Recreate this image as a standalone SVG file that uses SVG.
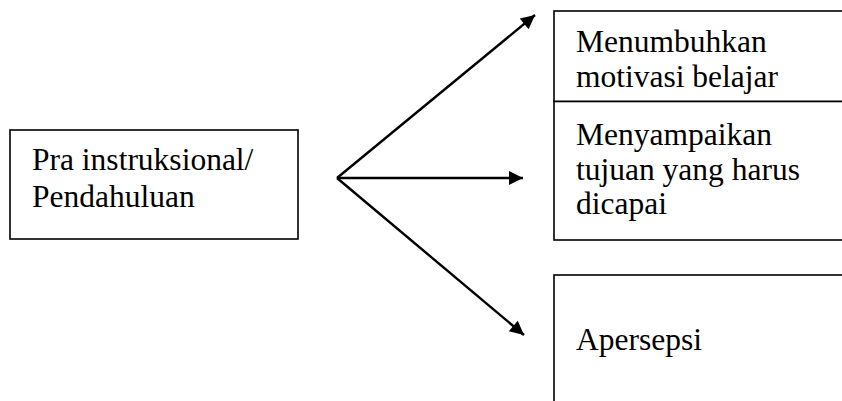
<svg xmlns="http://www.w3.org/2000/svg" width="842" height="401" viewBox="0 0 842 401">
  <defs>
    <style>
      .box { fill: #ffffff; stroke: #000000; stroke-width: 1.6; }
      .lbl { font-size: 31.5px; fill: #000000; }
      .conn { stroke: #000000; stroke-width: 2.4; fill: none; }
    </style>
    <marker id="arr" viewBox="0 0 10 10" refX="10" refY="5" markerUnits="userSpaceOnUse" markerWidth="17" markerHeight="14" orient="auto">
      <path d="M0,0 L10,5 L0,10 Z" fill="#000000"/>
    </marker>
  </defs>
  <rect x="0" y="0" width="842" height="401" fill="#ffffff"/>

  <g font-family="Liberation Serif, Times New Roman, serif">
  <g id="node-pra">
    <rect class="box" x="10" y="130" width="288" height="109"/>
    <text class="lbl" x="32" y="170">Pra instruksional/</text>
    <text class="lbl" x="32" y="207">Pendahuluan</text>
  </g>

  <g id="node-motivasi">
    <rect class="box" x="554" y="11" width="300" height="90.5"/>
    <text class="lbl" x="576" y="52">Menumbuhkan</text>
    <text class="lbl" x="576" y="87">motivasi belajar</text>
  </g>

  <g id="node-tujuan">
    <rect class="box" x="554" y="101.5" width="300" height="138.5"/>
    <text class="lbl" x="576" y="145">Menyampaikan</text>
    <text class="lbl" x="576" y="180">tujuan yang harus</text>
    <text class="lbl" x="576" y="214">dicapai</text>
  </g>

  <g id="node-apersepsi">
    <rect class="box" x="554" y="275" width="300" height="140"/>
    <text class="lbl" x="576" y="350">Apersepsi</text>
  </g>
  </g>

  <g id="connectors">
    <line class="conn" x1="337" y1="178" x2="535" y2="15" marker-end="url(#arr)"/>
    <line class="conn" x1="337" y1="178" x2="523" y2="178" marker-end="url(#arr)"/>
    <line class="conn" x1="337" y1="178" x2="524" y2="335" marker-end="url(#arr)"/>
  </g>
</svg>
